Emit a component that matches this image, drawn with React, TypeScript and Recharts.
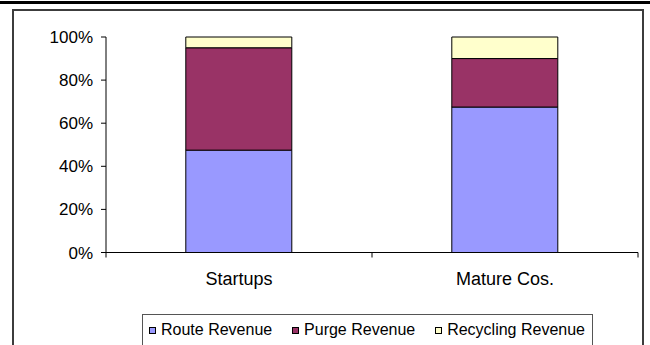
import React from 'react';
import { BarChart, Bar, XAxis, YAxis, Legend, Text } from 'recharts';

const categories = ['Startups', 'Mature Cos.'];
const routeRevenue = [47.5, 67.5];
const purgeRevenue = [47.5, 22.5];
const recyclingRevenue = [5, 10];
const yTicks = [0, 20, 40, 60, 80, 100];

const seriesNames = ['Route Revenue', 'Purge Revenue', 'Recycling Revenue'];
const seriesColors = ['#9999FF', '#993366', '#FFFFCC'];

const data = categories.map((c, i) => ({
  name: c,
  route: routeRevenue[i],
  purge: purgeRevenue[i],
  recycling: recyclingRevenue[i],
}));

const FONT = '"Liberation Sans", Arial, sans-serif';
const X_TICK_MARGIN = 19.5;
const X_TICK_LEN = 5;

const CategoryTick = (props: any) => {
  const { x, y, payload, index, visibleTicksCount } = props;
  const half = payload && payload.offset ? payload.offset : 0;
  const axisY = y - X_TICK_MARGIN;
  const isLast = index === visibleTicksCount - 1;
  return (
    <g>
      <line x1={x - half} x2={x - half} y1={axisY} y2={axisY + X_TICK_LEN} stroke="#000" />
      {isLast && <line x1={x + half} x2={x + half} y1={axisY} y2={axisY + X_TICK_LEN} stroke="#000" />}
      <Text x={x} y={y} textAnchor="middle" verticalAnchor="start" fill="#000" fontSize={18} fontFamily={FONT}>
        {payload.value}
      </Text>
    </g>
  );
};

const LegendContent = (props: any) => {
  const payload = [...(props.payload || [])].sort(
    (a: any, b: any) => seriesNames.indexOf(a.value) - seriesNames.indexOf(b.value)
  );
  return (
    <div
      style={{
        position: 'relative',
        boxSizing: 'border-box',
        width: 451,
        height: 40,
        display: 'flex',
        justifyContent: 'space-between',
        alignItems: 'flex-start',
        paddingLeft: 7,
        paddingRight: 8,
        paddingTop: 7,
        fontFamily: FONT,
        fontSize: 16,
        lineHeight: '18px',
        color: '#000',
      }}
    >
      <div style={{ position: 'absolute', left: 0, top: 0, width: 451, height: 1, background: '#555' }} />
      <div style={{ position: 'absolute', left: 0, top: 0, width: 1, height: 40, background: '#555' }} />
      <div style={{ position: 'absolute', left: 450, top: 0, width: 1, height: 40, background: '#555' }} />
      {payload.map((p: any) => (
        <div key={p.value} style={{ display: 'flex', alignItems: 'center' }}>
          <span
            style={{
              display: 'inline-block',
              boxSizing: 'border-box',
              width: 7,
              height: 7,
              border: '1px solid #000',
              background: p.color,
              marginRight: 5,
            }}
          />
          <span>{p.value}</span>
        </div>
      ))}
    </div>
  );
};

export default function App() {
  return (
    <div
      style={{
        position: 'fixed',
        left: 0,
        top: 0,
        width: 650,
        height: 345,
        background: '#fff',
        overflow: 'hidden',
      }}
    >
      <div style={{ position: 'absolute', left: 0, top: 1, width: 650, height: 3, background: '#000' }} />
      <div
        style={{
          position: 'absolute',
          left: 12,
          top: 9,
          width: 632,
          height: 400,
          boxSizing: 'border-box',
          border: '2px solid #3c3c3c',
        }}
      />
      <div style={{ position: 'absolute', left: 0, top: 0 }}>
        <BarChart
          width={650}
          height={345}
          data={data}
          margin={{ top: 37, right: 12, left: 16, bottom: 91.5 }}
          barCategoryGap="30%"
        >
          <XAxis
            dataKey="name"
            height={1}
            axisLine={{ stroke: '#000' }}
            tickLine={false}
            tickSize={0}
            tickMargin={X_TICK_MARGIN}
            tick={<CategoryTick />}
          />
          <YAxis
            width={90}
            domain={[0, 100]}
            ticks={yTicks}
            tickFormatter={(v: number) => `${v}%`}
            axisLine={{ stroke: '#000' }}
            tickLine={{ stroke: '#000' }}
            tickSize={5}
            tickMargin={8}
            tick={{ fill: '#000', fontSize: 17, fontFamily: FONT }}
          />
          <Legend
            layout="vertical"
            align="center"
            verticalAlign="middle"
            wrapperStyle={{ left: 142, top: 314, width: 451, height: 40 }}
            content={<LegendContent />}
          />
          <Bar dataKey="route" name={seriesNames[0]} stackId="a" fill={seriesColors[0]} stroke="#000" strokeWidth={1} isAnimationActive={false} />
          <Bar dataKey="purge" name={seriesNames[1]} stackId="a" fill={seriesColors[1]} stroke="#000" strokeWidth={1} isAnimationActive={false} />
          <Bar dataKey="recycling" name={seriesNames[2]} stackId="a" fill={seriesColors[2]} stroke="#000" strokeWidth={1} isAnimationActive={false} />
        </BarChart>
      </div>
    </div>
  );
}
